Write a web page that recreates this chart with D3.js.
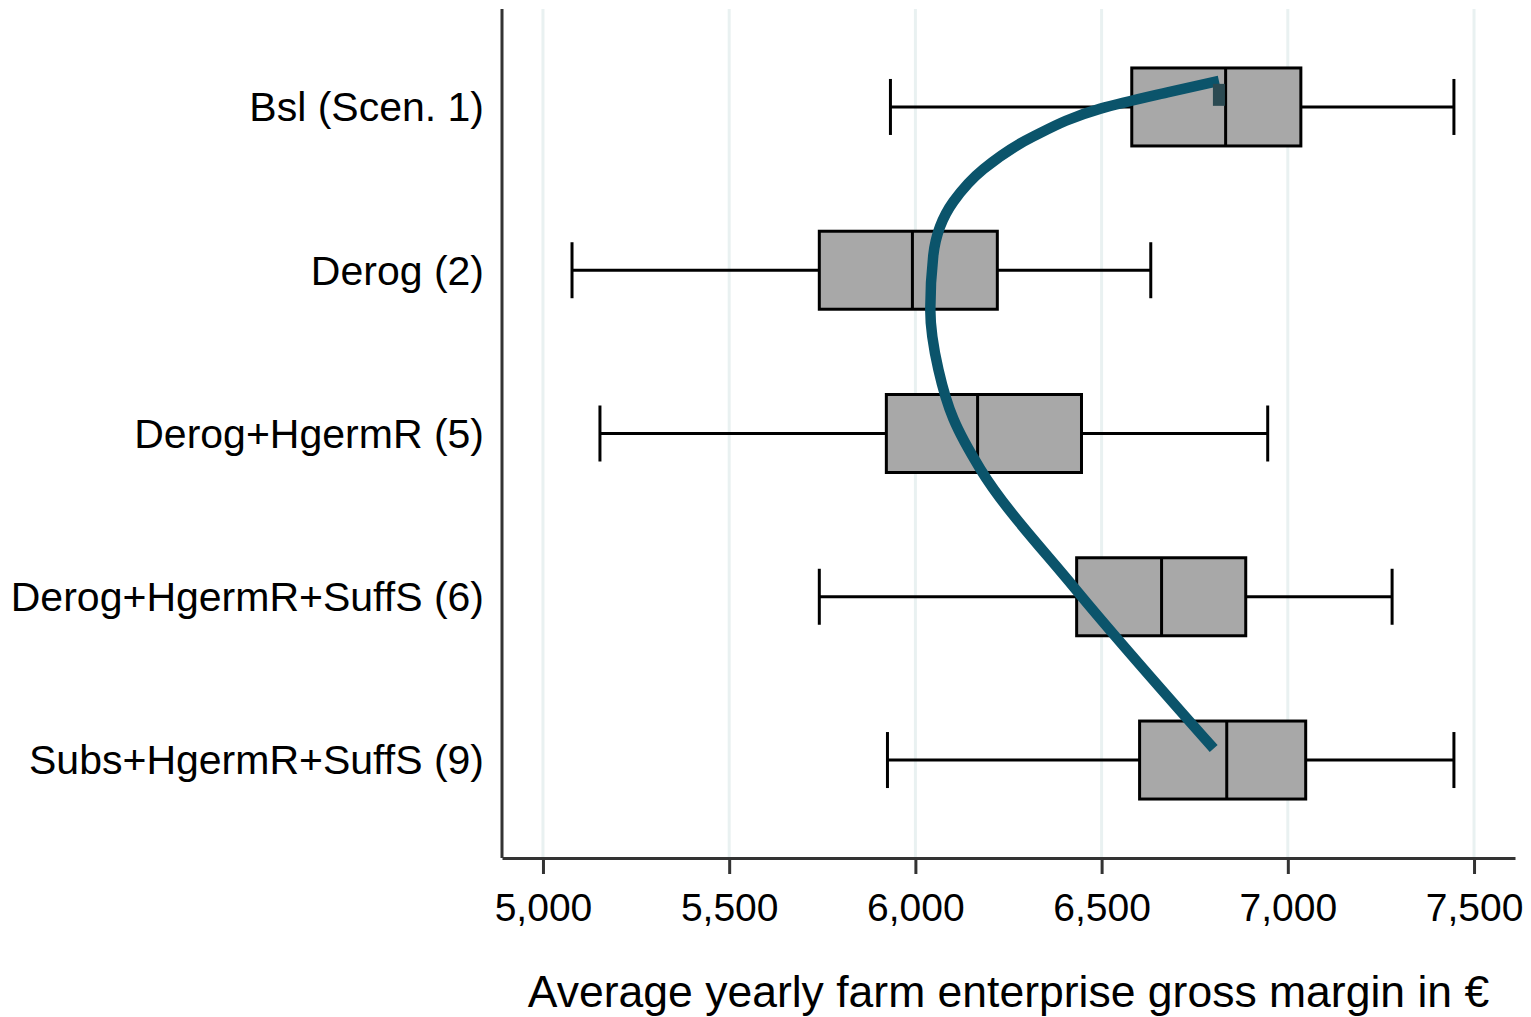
<!DOCTYPE html>
<html>
<head>
<meta charset="utf-8">
<script src="https://cdn.jsdelivr.net/npm/d3@7"></script>
<style>
  body { margin: 0; background: #fff; }
  text { font-family: "Liberation Sans", Arial, sans-serif; fill: #000; }
</style>
</head>
<body>
<div id="chart"></div>
<script>
'use strict';

// scenarios, top to bottom
var categories = ["Bsl (Scen. 1)", "Derog (2)", "Derog+HgermR (5)", "Derog+HgermR+SuffS (6)", "Subs+HgermR+SuffS (9)"];
// box stats (euro)
var whiskerLow  = [5933, 5078, 5153, 5742, 5925];
var q1          = [6581, 5742, 5922, 6433, 6602];
var median      = [6833, 5992, 6167, 6661, 6836];
var q3          = [7035, 6220, 6446, 6887, 7048];
var whiskerHigh = [7446, 6632, 6946, 7280, 7446];
var xTicks = [5000, 5500, 6000, 6500, 7000, 7500];

// hand drawn trend curve, top to bottom: x in euro, y in row index (0 = top row)
var curveX = [6815, 6677, 6497, 6317, 6183, 6102, 6048, 6040, 6062, 6102, 6175, 6425, 6801];
var curveY = [-0.16, -0.09, 0.01, 0.18, 0.38, 0.58, 0.91, 1.24, 1.61, 1.91, 2.22, 2.94, 3.93];

var width = 1531, height = 1017;
var margin = {top: 9, right: 16, bottom: 159, left: 502};

var svg = d3.select("#chart").append("svg")
    .attr("width", width)
    .attr("height", height);

var x = d3.scaleLinear()
    .domain([4890, 7610])
    .range([margin.left, width - margin.right]);

var y = d3.scalePoint()
    .domain(categories)
    .range([margin.top, height - margin.bottom])
    .padding(0.6);

var rowY = d3.scaleLinear()
    .domain([0, 1])
    .range([y(categories[0]), y(categories[0]) + y.step()]);

var boxH = 78, capH = 56;

// vertical grid lines
svg.append("g")
    .selectAll("line")
    .data(xTicks)
    .join("line")
    .attr("x1", function (d) { return x(d); })
    .attr("x2", function (d) { return x(d); })
    .attr("y1", margin.top)
    .attr("y2", height - margin.bottom)
    .attr("stroke", "#e9f1f1")
    .attr("stroke-width", 3);

// boxes
var rows = svg.append("g")
    .selectAll("g")
    .data(categories)
    .join("g")
    .attr("transform", function (d) { return "translate(0," + y(d) + ")"; });

rows.append("line")
    .attr("x1", function (d, i) { return x(whiskerLow[i]); })
    .attr("x2", function (d, i) { return x(whiskerHigh[i]); })
    .attr("stroke", "#000")
    .attr("stroke-width", 3);

rows.selectAll("line.cap")
    .data(function (d, i) { return [whiskerLow[i], whiskerHigh[i]]; })
    .join("line")
    .attr("class", "cap")
    .attr("x1", function (v) { return x(v); })
    .attr("x2", function (v) { return x(v); })
    .attr("y1", -capH / 2)
    .attr("y2", capH / 2)
    .attr("stroke", "#000")
    .attr("stroke-width", 3);

rows.append("rect")
    .attr("x", function (d, i) { return x(q1[i]); })
    .attr("width", function (d, i) { return x(q3[i]) - x(q1[i]); })
    .attr("y", -boxH / 2)
    .attr("height", boxH)
    .attr("fill", "#a8a8a8")
    .attr("stroke", "#000")
    .attr("stroke-width", 3);

rows.append("line")
    .attr("x1", function (d, i) { return x(median[i]); })
    .attr("x2", function (d, i) { return x(median[i]); })
    .attr("y1", -boxH / 2)
    .attr("y2", boxH / 2)
    .attr("stroke", "#000")
    .attr("stroke-width", 3);

// category labels
rows.append("text")
    .attr("x", margin.left - 18)
    .attr("dy", "0.35em")
    .attr("text-anchor", "end")
    .style("font-size", "41px")
    .text(function (d) { return d; });

// trend curve
var curvePts = curveX.map(function (v, i) { return [x(v), rowY(curveY[i])]; });
var line = d3.line().curve(d3.curveMonotoneY);

svg.append("path")
    .attr("d", line(curvePts))
    .attr("fill", "none")
    .attr("stroke", "#0b546b")
    .attr("stroke-width", 10.5);

// small end mark at the top of the curve
var tip = curvePts[0];
svg.append("rect")
    .attr("x", tip[0] - 6)
    .attr("y", tip[1] + 3)
    .attr("width", 12)
    .attr("height", 22)
    .attr("fill", "#2b4a52");

// axes
var xAxis = d3.axisBottom(x)
    .tickValues(xTicks)
    .tickFormat(d3.format(","))
    .tickSizeInner(16)
    .tickSizeOuter(0)
    .tickPadding(19);

var gx = svg.append("g")
    .attr("transform", "translate(0," + (height - margin.bottom) + ")")
    .call(xAxis);
gx.select(".domain").attr("stroke", "#333").attr("stroke-width", 3);
gx.selectAll(".tick line").attr("stroke", "#333").attr("stroke-width", 3);
gx.selectAll(".tick text")
    .style("font-size", "39px")
    .style("font-family", "'Liberation Sans', Arial, sans-serif")
    .attr("fill", "#000");

svg.append("line")
    .attr("x1", margin.left)
    .attr("x2", margin.left)
    .attr("y1", margin.top)
    .attr("y2", height - margin.bottom)
    .attr("stroke", "#333")
    .attr("stroke-width", 3);

svg.append("text")
    .attr("x", (margin.left + width - margin.right) / 2)
    .attr("y", 1007)
    .attr("text-anchor", "middle")
    .style("font-size", "44.5px")
    .text("Average yearly farm enterprise gross margin in €");
</script>
</body>
</html>
